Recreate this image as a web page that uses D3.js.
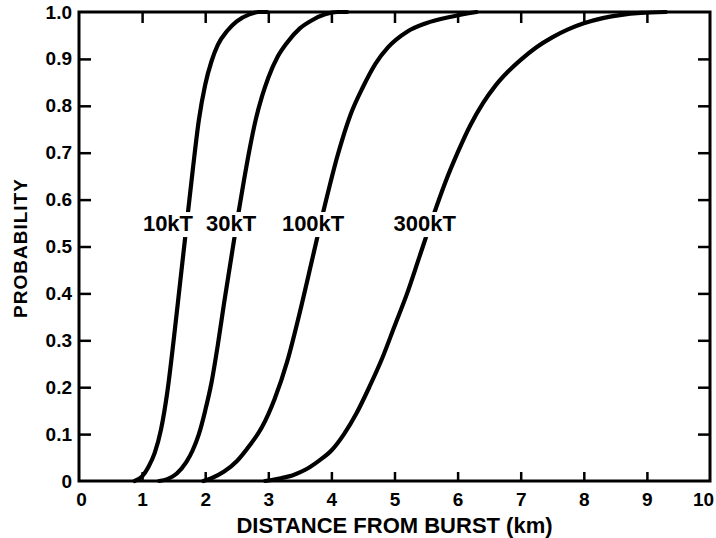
<!DOCTYPE html>
<html>
<head>
<meta charset="utf-8">
<script src="https://cdn.jsdelivr.net/npm/d3@7"></script>
<style>
  html, body { margin: 0; padding: 0; background: #fff; }
  svg { display: block; }
  text { font-family: "Liberation Sans", Arial, Helvetica, sans-serif; font-weight: bold; fill: #000; }
</style>
</head>
<body>
<svg id="chart" width="716" height="538"></svg>
<script>
// ---- data ----
const seriesNames = ["10kT", "30kT", "100kT", "300kT"];

const dist10 = [0.88, 1.0, 1.1, 1.2, 1.3, 1.4, 1.5, 1.6, 1.7, 1.8, 1.9, 2.0, 2.1, 2.2, 2.35, 2.5, 2.7, 2.85, 2.98];
const prob10 = [0.0, 0.01, 0.03, 0.06, 0.11, 0.19, 0.30, 0.42, 0.54, 0.66, 0.77, 0.845, 0.895, 0.93, 0.96, 0.98, 0.995, 1.0, 1.0];

const dist30 = [1.27, 1.4, 1.55, 1.7, 1.8, 1.9, 2.0, 2.1, 2.2, 2.3, 2.4, 2.5, 2.6, 2.7, 2.8, 2.9, 3.0, 3.15, 3.3, 3.5, 3.7, 3.9, 4.1, 4.25];
const prob30 = [0.0, 0.004, 0.016, 0.04, 0.065, 0.10, 0.15, 0.21, 0.29, 0.38, 0.465, 0.55, 0.63, 0.705, 0.77, 0.82, 0.86, 0.905, 0.935, 0.965, 0.983, 0.995, 1.0, 1.0];

const dist100 = [1.97, 2.1, 2.3, 2.5, 2.7, 2.9, 3.1, 3.3, 3.5, 3.7, 3.9, 4.1, 4.3, 4.5, 4.7, 4.9, 5.2, 5.5, 5.9, 6.3];
const prob100 = [0.0, 0.006, 0.02, 0.042, 0.075, 0.115, 0.175, 0.255, 0.36, 0.475, 0.59, 0.695, 0.78, 0.84, 0.89, 0.925, 0.958, 0.976, 0.99, 1.0];

const dist300 = [2.95, 3.2, 3.4, 3.6, 3.8, 4.0, 4.2, 4.4, 4.6, 4.8, 5.0, 5.2, 5.4, 5.6, 5.8, 6.0, 6.2, 6.4, 6.6, 6.8, 7.0, 7.25, 7.5, 7.75, 8.0, 8.3, 8.6, 8.9, 9.3];
const prob300 = [0.0, 0.006, 0.013, 0.025, 0.043, 0.065, 0.10, 0.145, 0.20, 0.26, 0.33, 0.40, 0.48, 0.56, 0.635, 0.70, 0.758, 0.805, 0.843, 0.873, 0.898, 0.925, 0.946, 0.963, 0.976, 0.987, 0.994, 0.998, 1.0];

// curve-label anchors in data units (km, probability)
const labelDist = [1.41, 2.41, 3.71, 5.48];
const labelProb = [0.55, 0.55, 0.55, 0.55];

const xTickValues = [0, 1, 2, 3, 4, 5, 6, 7, 8, 9, 10];
const yTickValues = [0, 0.1, 0.2, 0.3, 0.4, 0.5, 0.6, 0.7, 0.8, 0.9, 1.0];
const yTickLabels = ["0", "0.1", "0.2", "0.3", "0.4", "0.5", "0.6", "0.7", "0.8", "0.9", "1.0"];
const xTitle = "DISTANCE FROM BURST (km)";
const yTitle = "PROBABILITY";

// ---- layout ----
const svg = d3.select("#chart");
const mLeft = 79, mRight = 710, mTop = 12, mBottom = 481;

const x = d3.scaleLinear().domain([0, 10]).range([mLeft, mRight]);
const y = d3.scaleLinear().domain([0, 1]).range([mBottom, mTop]);

const innerTicks = [1, 2, 3, 4, 5, 6, 7, 8, 9];
const innerYTicks = [0.1, 0.2, 0.3, 0.4, 0.5, 0.6, 0.7, 0.8, 0.9];

// curves
const allDist = [dist10, dist30, dist100, dist300];
const allProb = [prob10, prob30, prob100, prob300];
const line = d3.line()
  .x(d => x(d[0]))
  .y(d => y(d[1]))
  .curve(d3.curveMonotoneX);

const curves = svg.append("g");
allDist.forEach((ds, i) => {
  const pts = ds.map((d, j) => [d, allProb[i][j]]);
  curves.append("path")
    .attr("d", line(pts))
    .attr("fill", "none")
    .attr("stroke", "#000")
    .attr("stroke-width", 4.2)
    .attr("stroke-linejoin", "round")
    .attr("stroke-linecap", "round");
});

// frame
svg.append("rect")
  .attr("x", mLeft).attr("y", mTop)
  .attr("width", mRight - mLeft).attr("height", mBottom - mTop)
  .attr("fill", "none").attr("stroke", "#000").attr("stroke-width", 3);

// axes
function styleAxis(g) {
  g.select(".domain").remove();
  g.selectAll(".tick line").attr("stroke", "#000").attr("stroke-width", 2.5);
  g.selectAll(".tick text").attr("font-size", 19).attr("fill", "#000")
    .attr("font-family", "'Liberation Sans', Arial, sans-serif").attr("font-weight", "bold");
}

// left axis with labels
const yAxis = d3.axisLeft(y).tickValues(yTickValues)
  .tickFormat((d, i) => yTickLabels[i]).tickSizeInner(0).tickSizeOuter(0).tickPadding(7);
svg.append("g").attr("transform", `translate(${mLeft},0)`).call(yAxis).call(styleAxis);

// left inner ticks
svg.append("g").attr("transform", `translate(${mLeft},0)`)
  .call(d3.axisLeft(y).tickValues(innerYTicks).tickSizeInner(-12).tickSizeOuter(0).tickFormat(""))
  .call(styleAxis);
// right inner ticks
svg.append("g").attr("transform", `translate(${mRight},0)`)
  .call(d3.axisRight(y).tickValues(innerYTicks).tickSizeInner(-12).tickSizeOuter(0).tickFormat(""))
  .call(styleAxis);

// bottom axis with labels
const xAxis = d3.axisBottom(x).tickValues(xTickValues)
  .tickFormat(d3.format("d")).tickSizeInner(0).tickSizeOuter(0).tickPadding(12);
const gx = svg.append("g").attr("transform", `translate(0,${mBottom})`).call(xAxis).call(styleAxis);
gx.selectAll(".tick text").filter(d => d === 10).attr("dx", -7);
gx.selectAll(".tick text").filter(d => d === 0).attr("dx", 2);

// bottom inner ticks
svg.append("g").attr("transform", `translate(0,${mBottom})`)
  .call(d3.axisBottom(x).tickValues(innerTicks).tickSizeInner(-9).tickSizeOuter(0).tickFormat(""))
  .call(styleAxis);
// top inner ticks
svg.append("g").attr("transform", `translate(0,${mTop})`)
  .call(d3.axisTop(x).tickValues(innerTicks).tickSizeInner(-11).tickSizeOuter(0).tickFormat(""))
  .call(styleAxis);

// axis titles
svg.append("text")
  .attr("x", x(5)).attr("y", 533)
  .attr("text-anchor", "middle")
  .attr("font-size", 22)
  .text(xTitle);

svg.append("text")
  .attr("transform", `translate(27,248) rotate(-90)`)
  .attr("text-anchor", "middle")
  .attr("font-size", 19)
  .attr("letter-spacing", 1)
  .text(yTitle);

// curve labels with white knock-out background
const labels = svg.append("g");
seriesNames.forEach((name, i) => {
  const g = labels.append("g");
  const t = g.append("text")
    .attr("x", x(labelDist[i]))
    .attr("y", y(labelProb[i]) + 8)
    .attr("text-anchor", "middle")
    .attr("font-size", 22)
    .text(name);
  const bb = t.node().getBBox();
  g.insert("rect", "text")
    .attr("x", bb.x - 1).attr("y", bb.y + 1)
    .attr("width", bb.width + 2).attr("height", bb.height)
    .attr("fill", "#fff");
});
</script>
</body>
</html>
